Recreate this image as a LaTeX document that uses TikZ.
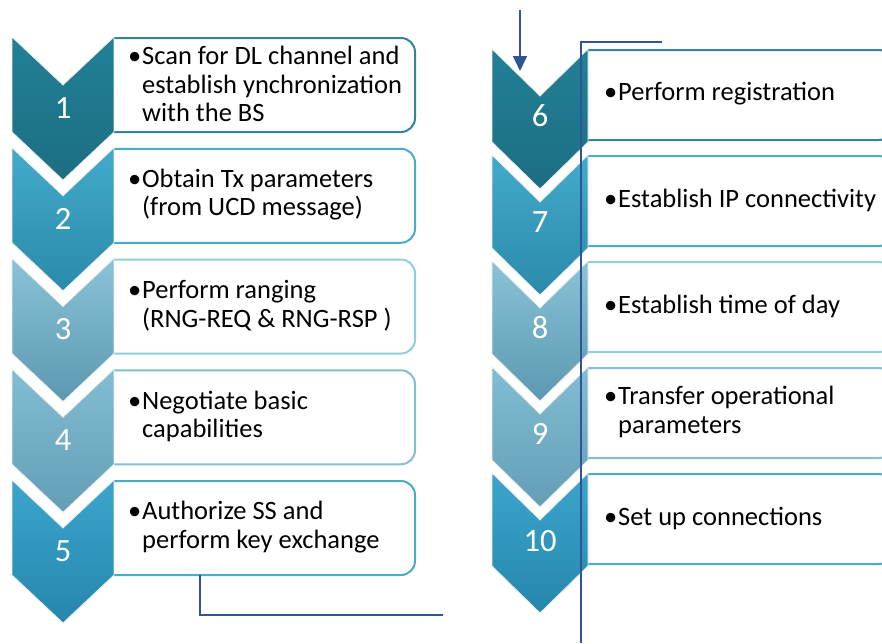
\documentclass[tikz,border=0pt]{standalone}
\usepackage{fontspec}
\setmainfont{Carlito}
\usetikzlibrary{arrows.meta}
\definecolor{c1t}{RGB}{34,128,151}
\definecolor{c1b}{RGB}{28,110,130}
\definecolor{c2t}{RGB}{68,170,203}
\definecolor{c2b}{RGB}{42,138,170}
\definecolor{c3t}{RGB}{138,195,215}
\definecolor{c3b}{RGB}{92,152,176}
\definecolor{c4t}{RGB}{130,189,211}
\definecolor{c4b}{RGB}{100,158,182}
\definecolor{c5t}{RGB}{60,165,205}
\definecolor{c5b}{RGB}{38,134,172}
\definecolor{b1}{RGB}{49,132,155}
\definecolor{b2}{RGB}{75,172,198}
\definecolor{b3}{RGB}{146,205,220}
\definecolor{b4}{RGB}{130,190,212}
\definecolor{b5}{RGB}{75,172,198}
\definecolor{conn}{RGB}{47,85,151}
\tikzset{
  boxst/.style={rectangle, rounded corners=14pt, line width=2pt, fill=white, inner sep=0pt},
  txt/.style={anchor=west, align=left, inner sep=0pt, font=\fontsize{26.5}{28.5}\selectfont, text=black},
  num/.style={text=white, inner sep=0pt, font=\fontsize{32.5}{32.5}\selectfont},
  connst/.style={draw=conn, line width=1.5pt},
}
% chevron: cx w top h d topcolor bottomcolor
\newcommand\mkchev[7]{%
  \path[top color=#6, bottom color=#7, draw=black!7, line width=0.8pt]
    ({#1-#2},{#3}) -- ({#1},{#3+#5}) -- ({#1+#2},{#3}) -- ({#1+#2},{#3+#4})
    -- ({#1},{#3+#4+#5}) -- ({#1-#2},{#3+#4}) -- cycle;}
% box: name x0 y0 x1 y1 colour
\newcommand\mkbox[6]{%
  \begin{scope}
    \clip ({#2},{#3-4}) rectangle ({#4+4},{#5+4});
    \node[boxst, draw=#6, minimum width={(#4-#2+30)*1pt}, minimum height={(#5-#3)*1pt}, anchor=north west] (#1) at ({#2-30},{#3}) {};
  \end{scope}}
\newcommand\bul{\llap{•\hspace{1pt}}}
\begin{document}
\begin{tikzpicture}[x=1pt,y=-1pt]
\clip (0,0) rectangle (882,643);
\fill[white] (0,0) rectangle (882,643);
% ---------- left column ----------
\mkbox{b1}{114}{37}{414}{131}{b1}
\mkbox{b2}{114}{147.75}{414}{241.75}{b2}
\mkbox{b3}{114}{258.5}{414}{352.5}{b3}
\mkbox{b4}{114}{369.25}{414}{463.25}{b4}
\mkbox{b5}{114}{480}{414}{574}{b5}
\mkchev{63}{51}{37}{95}{48}{c1t}{c1b}
\mkchev{63}{51}{147.75}{95}{48}{c2t}{c2b}
\mkchev{63}{51}{258.5}{95}{48}{c3t}{c3b}
\mkchev{63}{51}{369.25}{95}{48}{c4t}{c4b}
\mkchev{63}{51}{480}{95}{48}{c5t}{c5b}
\node[num] (n1) at (63,108) {1};
\node[num] (n2) at (63,218.75) {2};
\node[num] (n3) at (63,329.5) {3};
\node[num] (n4) at (63,440.25) {4};
\node[num] (n5) at (63,551) {5};
\node[txt] (t1) at (142,84) {\bul Scan for DL channel and\\establish ynchronization\\with the BS};
\node[txt] (t2) at (142,194.75) {\bul Obtain Tx parameters\\(from UCD message)};
\node[txt] (t3) at (142,305.5) {\bul Perform ranging\\(RNG-REQ \& RNG-RSP )};
\node[txt] (t4) at (142,416.25) {\bul Negotiate basic\\capabilities};
\node[txt] (t5) at (142,527) {\bul Authorize SS and\\perform key exchange};
% ---------- right column ----------
\mkbox{b6}{588}{49}{892}{139}{b1}
\mkbox{b7}{588}{155}{892}{245}{b2}
\mkbox{b8}{588}{261}{892}{351}{b3}
\mkbox{b9}{588}{367}{892}{457}{b4}
\mkbox{b10}{588}{473}{892}{563}{b5}
\mkchev{540}{48}{49}{93}{47}{c1t}{c1b}
\mkchev{540}{48}{155}{93}{47}{c2t}{c2b}
\mkchev{540}{48}{261}{93}{47}{c3t}{c3b}
\mkchev{540}{48}{367}{93}{47}{c4t}{c4b}
\mkchev{540}{48}{473}{93}{47}{c5t}{c5b}
\node[num] (n6) at (540,116) {6};
\node[num] (n7) at (540,222) {7};
\node[num] (n8) at (540,328) {8};
\node[num] (n9) at (540,434) {9};
\node[num] (n10) at (540,541) {10};
\node[txt] (t6) at (618,94) {\bul Perform registration};
\node[txt] (t7) at (618,200) {\bul Establish IP connectivity};
\node[txt] (t8) at (618,306) {\bul Establish time of day};
\node[txt] (t9) at (618,412) {\bul Transfer operational\\parameters};
\node[txt] (t10) at (618,518) {\bul Set up connections};
% ---------- connectors ----------
\coordinate (a0) at (520,10);
\coordinate (a1) at (520,71);
\draw[connst, -{Triangle[width=14pt,length=15pt]}] (a0) -- (a1);
\coordinate (l0) at (200,575);
\coordinate (l1) at (443,615);
\draw[connst] (l0) |- (l1);
\coordinate (r0) at (662,42);
\coordinate (r1) at (581,643);
\draw[connst] (r0) -| (r1);
\end{tikzpicture}
\end{document}
